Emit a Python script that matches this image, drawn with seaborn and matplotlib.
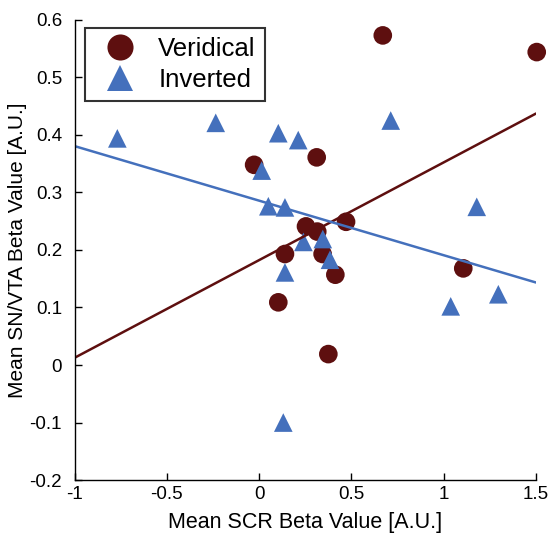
import numpy as np
import pandas as pd
import seaborn as sns
import matplotlib
matplotlib.use('Agg')
from matplotlib import pyplot as plt

# values
ver_scr = [0.670, 1.504, 0.312, -0.027, 0.254, 0.315, 0.471, 0.140, 0.344, 0.413, 0.104, 0.375, 1.106]
ver_snvta = [0.573, 0.544, 0.361, 0.348, 0.241, 0.232, 0.249, 0.193, 0.193, 0.157, 0.109, 0.019, 0.168]
inv_scr = [-0.768, -0.235, 0.104, 0.212, 0.713, 0.014, 0.050, 0.140, 0.240, 0.345, 0.384, 0.140, 1.179, 1.296, 1.038, 0.131]
inv_snvta = [0.394, 0.421, 0.403, 0.391, 0.425, 0.338, 0.276, 0.274, 0.214, 0.219, 0.183, 0.161, 0.275, 0.123, 0.102, -0.100]

xticks = [-1, -0.5, 0, 0.5, 1, 1.5]
xticklabels = ['-1', '-0.5', '0', '0.5', '1', '1.5']
yticks = [-0.2, -0.1, 0, 0.1, 0.2, 0.3, 0.4, 0.5, 0.6]
yticklabels = ['-0.2', '-0.1', '0', '0.1', '0.2', '0.3', '0.4', '0.5', '0.6']

red = '#5e0f0f'
blue = '#4470bc'

df = pd.DataFrame({
    'scr': ver_scr + inv_scr,
    'snvta': ver_snvta + inv_snvta,
    'cond': ['Veridical'] * len(ver_scr) + ['Inverted'] * len(inv_scr),
})

sns.set_style('white')
plt.rcParams['font.family'] = ['Liberation Sans', 'DejaVu Sans']
plt.rcParams['text.color'] = 'black'
plt.rcParams['axes.labelcolor'] = 'black'

fig = plt.figure(figsize=(5.52, 5.37), dpi=100)
ax = fig.add_axes([0.135, 0.106, 0.836, 0.857])
ax.set_xlim(-1, 1.5)
ax.set_ylim(-0.2, 0.6)

sns.scatterplot(data=df, x='scr', y='snvta', hue='cond', style='cond',
                markers={'Veridical': 'o', 'Inverted': '^'},
                palette={'Veridical': red, 'Inverted': blue},
                s=180, linewidth=0, ax=ax, legend=True, clip_on=False)

# least squares lines across the full x range
for cond, col in [('Veridical', red), ('Inverted', blue)]:
    sub = df[df['cond'] == cond]
    sns.regplot(data=sub, x='scr', y='snvta', scatter=False, ci=None,
                truncate=False, color=col, line_kws={'linewidth': 1.8}, ax=ax)

ax.set_xlim(-1, 1.5)
ax.set_ylim(-0.2, 0.6)
ax.set_xticks(xticks)
ax.set_xticklabels(xticklabels)
ax.set_yticks(yticks)
ax.set_yticklabels(yticklabels)
ax.tick_params(direction='in', length=5, width=1, labelsize=13.5, colors='black',
               bottom=True, left=True, top=False, right=False)
ax.tick_params(axis='x', pad=4)
ax.tick_params(axis='y', pad=9)
for side in ['top', 'right']:
    ax.spines[side].set_visible(False)
for side in ['left', 'bottom']:
    ax.spines[side].set_color('black')
    ax.spines[side].set_linewidth(1)

ax.set_xlabel('Mean SCR Beta Value [A.U.]', fontsize=15.5, labelpad=7, color='black')
ax.set_ylabel('Mean SN/VTA Beta Value [A.U.]', fontsize=15, labelpad=2, color='black')

handles, labels = ax.get_legend_handles_labels()
order = [labels.index('Veridical'), labels.index('Inverted')]
leg = ax.legend([handles[i] for i in order], [labels[i] for i in order],
                loc='upper left', bbox_to_anchor=(0.023, 0.982), borderaxespad=0,
                fontsize=18.5, frameon=True, fancybox=False, markerscale=1.4,
                handletextpad=0.5, borderpad=0.35, labelspacing=0.28, handlelength=2.0)
leg.get_frame().set_edgecolor('black')
leg.get_frame().set_linewidth(1.5)
for t in leg.get_texts():
    t.set_color('black')

plt.savefig('out.png', dpi=100)
